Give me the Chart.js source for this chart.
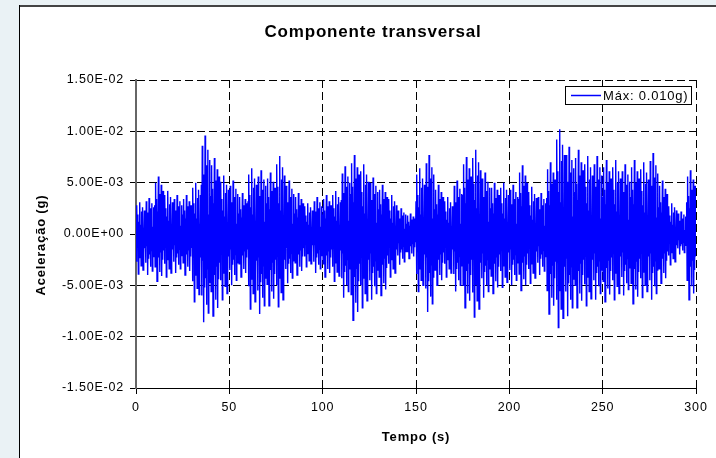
<!DOCTYPE html>
<html><head><meta charset="utf-8">
<script src="https://cdn.jsdelivr.net/npm/chart.js@4/dist/chart.umd.min.js"></script>
<style>html,body{margin:0;padding:0;background:#eaf2f5;}canvas{display:block;}</style>
</head><body>
<canvas id="c" width="716" height="458"></canvas>
<script>
const chartTitle = 'Componente transversal';
const xAxisTitle = 'Tempo (s)';
const yAxisTitle = 'Aceleração (g)';
const seriesLabel = 'Máx: 0.010g)';
const xTicks = [0, 50, 100, 150, 200, 250, 300];
const yTicks = [-0.015, -0.01, -0.005, 0, 0.005, 0.01, 0.015];
const sampleStep = 0.25; // seconds between samples
// acceleration samples, in units of 1e-4 g (one row = 5 s)
const accelE4 = [
16,-27,28,-12,19,-39,12,-23,31,-20,9,-31,22,-16,26,-35,6,-21,23,-14,
18,-28,32,-12,21,-40,14,-24,35,-20,10,-32,25,-16,30,-36,7,-22,26,-14,
28,-32,50,-14,34,-46,22,-28,56,-23,17,-37,39,-18,48,-41,11,-25,42,-16,
21,-29,38,-13,25,-42,17,-25,42,-21,13,-34,29,-17,36,-38,8,-23,31,-15,
19,-27,34,-11,23,-38,15,-23,38,-19,11,-30,27,-15,32,-34,8,-21,28,-13,
19,-28,34,-12,23,-40,15,-24,38,-20,11,-32,27,-16,32,-36,8,-22,28,-14,
25,-46,45,-20,30,-66,20,-40,50,-33,15,-53,35,-26,43,-59,10,-36,38,-23,
48,-60,86,-26,58,-86,38,-52,96,-43,29,-69,67,-34,82,-77,19,-47,72,-30,
37,-56,67,-24,44,-80,30,-48,74,-40,22,-64,52,-32,63,-72,15,-44,56,-28,
29,-45,51,-19,34,-64,23,-38,57,-32,17,-51,40,-26,48,-58,11,-35,43,-22,
26,-35,47,-15,31,-50,21,-30,52,-25,16,-40,36,-20,44,-45,10,-28,39,-18,
20,-29,36,-13,24,-42,16,-25,40,-21,12,-34,28,-17,34,-38,8,-23,30,-15,
32,-51,58,-22,38,-73,26,-44,64,-37,19,-58,45,-29,54,-66,13,-40,48,-26,
31,-55,56,-23,37,-78,25,-47,62,-39,19,-62,43,-31,53,-70,12,-43,47,-27,
30,-49,54,-21,36,-70,24,-42,60,-35,18,-56,42,-28,51,-63,12,-39,45,-25,
38,-50,68,-21,46,-71,30,-43,76,-36,23,-57,53,-28,65,-64,15,-39,57,-25,
26,-34,47,-14,31,-48,21,-29,52,-24,16,-38,36,-19,44,-43,10,-26,39,-17,
20,-28,36,-12,24,-40,16,-24,40,-20,12,-32,28,-16,34,-36,8,-22,30,-14,
15,-22,27,-10,18,-32,12,-19,30,-16,9,-26,21,-13,26,-29,6,-18,23,-11,
18,-27,32,-11,22,-38,14,-23,36,-19,11,-30,25,-15,31,-34,7,-21,27,-13,
19,-29,34,-13,23,-42,15,-25,38,-21,11,-34,27,-17,32,-38,8,-23,28,-15,
21,-32,38,-14,25,-46,17,-28,42,-23,13,-37,29,-18,36,-41,8,-25,31,-16,
33,-43,59,-19,40,-62,26,-37,66,-31,20,-50,46,-25,56,-56,13,-34,50,-22,
39,-59,69,-25,46,-84,31,-50,77,-42,23,-67,54,-34,65,-76,15,-46,58,-29,
34,-50,61,-22,41,-72,27,-43,68,-36,20,-58,48,-29,58,-65,14,-40,51,-25,
28,-45,50,-19,33,-64,22,-38,55,-32,17,-51,39,-26,47,-58,11,-35,41,-22,
24,-42,43,-18,29,-60,19,-36,48,-30,14,-48,34,-24,41,-54,10,-33,36,-21,
19,-29,34,-13,23,-42,15,-25,38,-21,11,-34,27,-17,32,-38,8,-23,28,-15,
13,-21,23,-9,15,-30,10,-18,25,-15,8,-24,18,-12,21,-27,5,-17,19,-11,
10,-17,18,-7,12,-24,8,-14,20,-12,6,-19,14,-10,17,-22,4,-13,15,-8,
32,-39,58,-17,38,-56,26,-34,64,-28,19,-45,45,-22,54,-50,13,-31,48,-20,
39,-53,69,-23,46,-76,31,-46,77,-38,23,-61,54,-30,65,-68,15,-42,58,-27,
24,-35,43,-15,29,-50,19,-30,48,-25,14,-40,34,-20,41,-45,10,-28,36,-18,
18,-29,32,-13,22,-42,14,-25,36,-21,11,-34,25,-17,31,-38,7,-23,27,-15,
26,-39,47,-17,31,-56,21,-34,52,-28,16,-45,36,-22,44,-50,10,-31,39,-20,
38,-50,68,-22,45,-72,30,-43,75,-36,23,-58,53,-29,64,-65,15,-40,56,-25,
41,-57,74,-24,49,-81,33,-49,82,-41,25,-65,57,-32,70,-73,16,-45,62,-28,
30,-43,54,-19,36,-62,24,-37,60,-31,18,-50,42,-25,51,-56,12,-34,45,-22,
25,-41,45,-17,30,-58,20,-35,50,-29,15,-46,35,-23,43,-52,10,-32,38,-20,
25,-36,45,-16,30,-52,20,-31,50,-26,15,-42,35,-21,43,-47,10,-29,38,-18,
24,-35,43,-15,29,-50,19,-30,48,-25,14,-40,34,-20,41,-45,10,-28,36,-18,
34,-39,60,-17,40,-55,27,-33,67,-28,20,-44,47,-22,57,-50,13,-30,50,-19,
23,-34,41,-14,28,-48,18,-29,46,-24,14,-38,32,-19,39,-43,9,-26,35,-17,
20,-28,36,-12,24,-40,16,-24,40,-20,12,-32,28,-16,34,-36,8,-22,30,-14,
35,-55,63,-23,42,-78,28,-47,70,-39,21,-62,49,-31,60,-70,14,-43,53,-27,
51,-64,92,-27,61,-91,41,-55,102,-46,31,-73,71,-36,87,-82,20,-50,77,-32,
43,-56,77,-24,51,-80,34,-48,85,-40,26,-64,60,-32,72,-72,17,-44,64,-28,
41,-50,74,-22,49,-72,33,-43,82,-36,25,-58,57,-29,70,-65,16,-40,62,-25,
38,-49,68,-21,46,-70,30,-42,76,-35,23,-56,53,-28,65,-63,15,-39,57,-25,
38,-45,68,-19,46,-64,30,-38,76,-32,23,-51,53,-26,65,-58,15,-35,57,-22,
36,-46,65,-20,43,-66,29,-40,72,-33,22,-53,50,-26,61,-59,14,-36,54,-23,
36,-45,65,-19,43,-64,29,-38,72,-32,22,-51,50,-26,61,-58,14,-35,54,-22,
34,-42,61,-18,41,-60,27,-36,68,-30,20,-48,48,-24,58,-54,14,-33,51,-21,
36,-48,65,-20,43,-68,29,-41,72,-34,22,-54,50,-27,61,-61,14,-37,54,-24,
35,-43,63,-19,42,-62,28,-37,70,-31,21,-50,49,-25,60,-56,14,-34,53,-22,
40,-45,71,-19,47,-64,32,-38,79,-32,24,-51,55,-26,67,-58,16,-35,59,-22,
26,-34,47,-14,31,-48,21,-29,52,-24,16,-38,36,-19,44,-43,10,-26,39,-17,
15,-21,27,-9,18,-30,12,-18,30,-15,9,-24,21,-12,26,-27,6,-17,23,-11,
11,-14,20,-6,13,-20,9,-12,22,-10,7,-16,15,-8,19,-18,4,-11,17,-7,
31,-45,56,-19,37,-64,25,-38,62,-32,19,-51,43,-26,53,-58,12,-35,47,-22,
30
];

const FONT = "'Liberation Sans', Arial, Helvetica, sans-serif";
Chart.defaults.font.family = FONT;
Chart.defaults.color = '#000';

const points = accelE4.map((v, i) => ({ x: i * sampleStep, y: v * 1e-4 }));

function sci(v) {
  if (Math.abs(v) < 1e-12) v = 0;
  const s = v.toExponential(2);
  const parts = s.split('e');
  const n = parseInt(parts[1], 10);
  return parts[0] + 'E' + (n < 0 ? '-' : '+') + String(Math.abs(n)).padStart(2, '0');
}

const pagePlugin = {
  id: 'page',
  beforeLayout(chart) { chart.ctx.letterSpacing = '0.8px'; },
  beforeDraw(chart) {
    const ctx = chart.ctx;
    ctx.letterSpacing = '0.8px';
    ctx.save();
    ctx.fillStyle = '#eaf2f5';
    ctx.fillRect(0, 0, chart.width, chart.height);
    ctx.fillStyle = '#ffffff';
    ctx.fillRect(19, 5, chart.width - 19, chart.height - 5);
    ctx.fillStyle = '#444444';
    ctx.fillRect(19, 5, chart.width - 19, 2);
    ctx.fillStyle = '#000000';
    ctx.fillRect(19, 5, 1, chart.height - 5);
    ctx.restore();
  },
  afterDraw(chart) {
    const ctx = chart.ctx, a = chart.chartArea, ds = chart.data.datasets[0];
    ctx.save();
    ctx.letterSpacing = '0.8px';
    ctx.font = '13px ' + FONT;
    const tw = ctx.measureText(ds.label).width;
    const right = Math.round(a.right - 5), top = Math.round(a.top + 6), h = 18;
    const left = Math.round(right - (6 + 30 + 2 + tw + 3));
    ctx.fillStyle = '#fff';
    ctx.fillRect(left, top, right - left, h);
    ctx.strokeStyle = '#000';
    ctx.lineWidth = 1;
    ctx.strokeRect(left + 0.5, top + 0.5, right - left, h);
    ctx.strokeStyle = ds.borderColor;
    ctx.lineWidth = 1.5;
    ctx.beginPath();
    ctx.moveTo(left + 6, top + h / 2 + 0.5);
    ctx.lineTo(left + 36, top + h / 2 + 0.5);
    ctx.stroke();
    ctx.fillStyle = '#000';
    ctx.textAlign = 'left';
    ctx.textBaseline = 'middle';
    ctx.fillText(ds.label, left + 38, top + h / 2 + 1);
    ctx.restore();
  }
};

new Chart(document.getElementById('c'), {
  type: 'line',
  data: {
    datasets: [{
      label: seriesLabel,
      data: points,
      borderColor: '#0000ff',
      borderWidth: 1.4,
      pointRadius: 0,
      tension: 0,
      fill: false
    }]
  },
  options: {
    responsive: false,
    animation: false,
    devicePixelRatio: 1,
    parsing: false,
    normalized: true,
    layout: { padding: { left: 50, right: 20, top: 0, bottom: 10 } },
    plugins: {
      legend: { display: false },
      tooltip: { enabled: false },
      title: {
        display: true, text: chartTitle, color: '#000',
        font: { size: 17, weight: 'bold' },
        padding: { top: 22, bottom: 37.6 }
      }
    },
    scales: {
      x: {
        type: 'linear', min: 0, max: 300, z: 1,
        afterBuildTicks: s => { s.ticks = xTicks.map(v => ({ value: v })); },
        afterFit: s => { s.height = 60; },
        grid: { color: '#000', lineWidth: 1, drawTicks: true, tickLength: 6, tickColor: '#000', tickBorderDash: [] },
        border: { display: true, color: '#000', width: 1, dash: [8, 4] },
        ticks: { color: '#000', font: { size: 12.5 }, padding: 6, maxRotation: 0, autoSkip: false },
        title: { display: true, text: xAxisTitle, color: '#000', font: { size: 13, weight: 'bold' }, padding: { top: 0, bottom: 3 } }
      },
      y: {
        type: 'linear', min: -0.015, max: 0.015, z: 1,
        afterBuildTicks: s => { s.ticks = yTicks.map(v => ({ value: v })); },
        afterFit: s => { s.width = 86; },
        grid: { color: '#000', lineWidth: 1, drawTicks: true, tickLength: 6, tickColor: '#000', tickBorderDash: [] },
        border: { display: true, color: '#666', width: 2, dash: [8, 4] },
        ticks: { color: '#000', font: { size: 12.5 }, padding: 6, autoSkip: false, callback: v => sci(v) },
        title: { display: true, text: yAxisTitle + '     ', color: '#000', font: { size: 13, weight: 'bold' }, padding: { top: -16, bottom: 0 } }
      }
    }
  },
  plugins: [pagePlugin]
});
</script>
</body></html>
